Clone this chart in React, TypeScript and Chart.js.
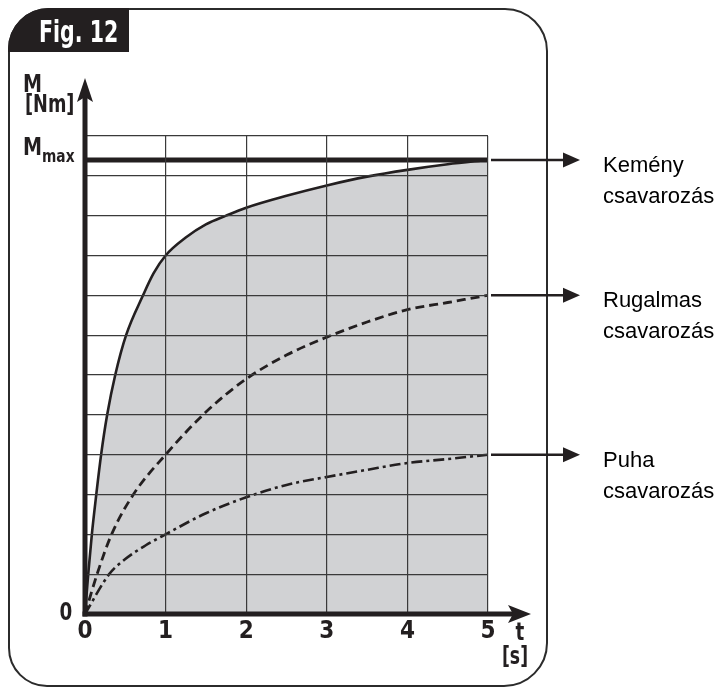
import { useEffect, useRef } from 'react';
import { Chart, registerables } from 'chart.js';

Chart.register(...registerables);

// ---- data (y in grid units, Mmax ≈ 11.4 of 12) ----
const timeTicks = [0, 1, 2, 3, 4, 5];
const yGridMax = 12;
const mMaxValue = 11.4;
const mMaxT = [0, 5];

const hardT = [0, 0.04, 0.085, 0.14, 0.2, 0.275, 0.375, 0.51, 0.72, 0.85, 1, 1.25, 1.5, 1.75, 2, 2.5, 3, 3.5, 4, 4.5, 5];
const hardM = [0, 1, 2, 3, 4, 5, 6, 7, 8, 8.55, 9, 9.45, 9.78, 10.0, 10.2, 10.5, 10.76, 10.98, 11.15, 11.29, 11.4];

const elasticT = [0, 0.15, 0.33, 0.6, 1, 1.5, 2, 2.5, 3, 3.5, 4, 4.5, 5];
const elasticM = [0, 1, 2, 3, 4, 5.07, 5.9, 6.5, 6.95, 7.33, 7.64, 7.82, 8];

const softT = [0, 0.3, 0.5, 0.75, 1, 1.5, 2, 2.5, 3, 3.5, 4, 4.5, 5];
const softM = [0, 1, 1.38, 1.72, 2, 2.53, 2.93, 3.24, 3.44, 3.62, 3.79, 3.89, 4];

const seriesLabels = [
  ['Kemény', 'csavarozás'],
  ['Rugalmas', 'csavarozás'],
  ['Puha', 'csavarozás'],
];
const figTitle = 'Fig. 12';
const yAxisName = ['M', '[Nm]'];
const xAxisName = ['t', '[s]'];
const mMaxLabel = ['M', 'max'];
const originLabel = '0';

const INK = '#231f20';
const GRID = '#3a3a3a';
const FILL = '#d1d2d4';
const COND = '"DejaVu Sans Condensed", "Liberation Sans Narrow", sans-serif';
const SANS = '"Liberation Sans", Arial, sans-serif';

const toPts = (t: number[], m: number[]) => t.map((v, i) => ({ x: v, y: m[i] }));

function condText(
  ctx: CanvasRenderingContext2D,
  text: string,
  x: number,
  y: number,
  sx: number,
  align: CanvasTextAlign,
) {
  ctx.save();
  ctx.translate(x, y);
  ctx.scale(sx, 1);
  ctx.textAlign = align;
  ctx.textBaseline = 'alphabetic';
  ctx.fillText(text, 0, 0);
  ctx.restore();
}

const decorPlugin = {
  id: 'decor',
  beforeDraw(chart: any) {
    const ctx = chart.ctx as CanvasRenderingContext2D;
    ctx.save();
    ctx.fillStyle = '#ffffff';
    ctx.fillRect(0, 0, chart.width, chart.height);

    // rounded frame
    const L = 9, T = 9, R = 547, B = 686;
    const rTL = 40, rTR = 42, rBR = 43, rBL = 38;
    ctx.beginPath();
    ctx.moveTo(L + rTL, T);
    ctx.lineTo(R - rTR, T);
    ctx.arcTo(R, T, R, T + rTR, rTR);
    ctx.lineTo(R, B - rBR);
    ctx.arcTo(R, B, R - rBR, B, rBR);
    ctx.lineTo(L + rBL, B);
    ctx.arcTo(L, B, L, B - rBL, rBL);
    ctx.lineTo(L, T + rTL);
    ctx.arcTo(L, T, L + rTL, T, rTL);
    ctx.closePath();
    ctx.strokeStyle = '#2b2b2b';
    ctx.lineWidth = 2;
    ctx.stroke();

    // black title tab
    ctx.beginPath();
    ctx.moveTo(129, T - 1);
    ctx.lineTo(L + rTL, T - 1);
    ctx.arcTo(L - 1, T - 1, L - 1, T + rTL, rTL + 1);
    ctx.lineTo(L - 1, 52);
    ctx.lineTo(129, 52);
    ctx.closePath();
    ctx.fillStyle = INK;
    ctx.fill();
    ctx.fillStyle = '#ffffff';
    ctx.font = `bold 30px ${COND}`;
    condText(ctx, figTitle, 39, 42, 0.76, 'left');
    ctx.restore();
  },
  afterDraw(chart: any) {
    const ctx = chart.ctx as CanvasRenderingContext2D;
    const xs = chart.scales.x;
    const ys = chart.scales.y;
    const ca = chart.chartArea;
    const x0 = xs.getPixelForValue(0);
    const y0 = ys.getPixelForValue(0);
    ctx.save();
    ctx.strokeStyle = INK;
    ctx.fillStyle = INK;
    ctx.lineWidth = 5;
    ctx.lineCap = 'butt';

    // y axis with arrow
    const yTip = ca.top - 58;
    ctx.beginPath();
    ctx.moveTo(x0, y0 + 2.5);
    ctx.lineTo(x0, yTip + 18);
    ctx.stroke();
    ctx.beginPath();
    ctx.moveTo(x0, yTip);
    ctx.lineTo(x0 + 8, yTip + 24);
    ctx.lineTo(x0, yTip + 19);
    ctx.lineTo(x0 - 8, yTip + 24);
    ctx.closePath();
    ctx.fill();

    // x axis with arrow
    const xTip = ca.right + 43;
    ctx.beginPath();
    ctx.moveTo(x0 - 2.5, y0);
    ctx.lineTo(xTip - 18, y0);
    ctx.stroke();
    ctx.beginPath();
    ctx.moveTo(xTip, y0);
    ctx.lineTo(xTip - 23, y0 - 9);
    ctx.lineTo(xTip - 18, y0);
    ctx.lineTo(xTip - 23, y0 + 9);
    ctx.closePath();
    ctx.fill();

    // axis texts (condensed bold)
    ctx.font = `bold 25px ${COND}`;
    condText(ctx, yAxisName[0], 23, ca.top - 44, 0.85, 'left');
    ctx.font = `bold 24px ${COND}`;
    condText(ctx, yAxisName[1], 25, ca.top - 24, 0.82, 'left');

    const yM = ys.getPixelForValue(mMaxValue);
    ctx.font = `bold 25px ${COND}`;
    condText(ctx, mMaxLabel[0], 23, yM - 5, 0.85, 'left');
    const mW = ctx.measureText(mMaxLabel[0]).width * 0.85;
    ctx.font = `bold 18px ${COND}`;
    condText(ctx, mMaxLabel[1], 23 + mW, yM + 2, 0.85, 'left');

    ctx.font = `bold 24px ${COND}`;
    condText(ctx, originLabel, 66, y0 + 6, 0.85, 'center');
    condText(ctx, xAxisName[0], ca.right + 32, y0 + 26, 0.85, 'center');
    condText(ctx, xAxisName[1], ca.right + 27, y0 + 50, 0.8, 'center');

    // right-side arrows and labels
    const ends = [hardM[hardM.length - 1], elasticM[elasticM.length - 1], softM[softM.length - 1]];
    ctx.lineWidth = 2.5;
    ends.forEach((v, i) => {
      const y = ys.getPixelForValue(v);
      const tip = ca.right + 92;
      ctx.beginPath();
      ctx.moveTo(ca.right + 3, y);
      ctx.lineTo(tip - 14, y);
      ctx.stroke();
      ctx.beginPath();
      ctx.moveTo(tip, y);
      ctx.lineTo(tip - 17, y - 7.5);
      ctx.lineTo(tip - 17, y + 7.5);
      ctx.closePath();
      ctx.fill();
      ctx.font = `22px ${SANS}`;
      ctx.textAlign = 'left';
      ctx.textBaseline = 'alphabetic';
      ctx.fillStyle = '#000';
      ctx.fillText(seriesLabels[i][0], ca.right + 115, y + 12);
      ctx.fillText(seriesLabels[i][1], ca.right + 115, y + 43);
      ctx.fillStyle = INK;
    });
    ctx.restore();
  },
};

export default function App() {
  const ref = useRef<HTMLCanvasElement | null>(null);
  useEffect(() => {
    if (!ref.current) return;
    const chart = new Chart(ref.current, {
      type: 'line',
      data: {
        datasets: [
          {
            label: seriesLabels[0].join(' '),
            data: toPts(hardT, hardM),
            borderColor: INK,
            borderWidth: 2.6,
            backgroundColor: FILL,
            fill: 'origin',
            pointRadius: 0,
            cubicInterpolationMode: 'monotone',
            order: 5,
          },
          {
            label: seriesLabels[1].join(' '),
            data: toPts(elasticT, elasticM),
            borderColor: INK,
            borderWidth: 2.8,
            borderDash: [9, 5],
            fill: false,
            pointRadius: 0,
            cubicInterpolationMode: 'monotone',
            order: 1,
          },
          {
            label: seriesLabels[2].join(' '),
            data: toPts(softT, softM),
            borderColor: INK,
            borderWidth: 2.6,
            borderDash: [11, 4, 3, 4],
            fill: false,
            pointRadius: 0,
            cubicInterpolationMode: 'monotone',
            order: 1,
          },
          {
            label: 'Mmax',
            data: mMaxT.map((t) => ({ x: t, y: mMaxValue })),
            borderColor: INK,
            borderWidth: 5,
            fill: false,
            pointRadius: 0,
            order: 0,
          },
        ],
      },
      options: {
        animation: false,
        responsive: false,
        events: [],
        layout: { padding: { left: 0, top: 136, right: 240, bottom: 0 } },
        plugins: {
          legend: { display: false },
          tooltip: { enabled: false },
          title: { display: false },
        },
        scales: {
          x: {
            type: 'linear',
            min: timeTicks[0],
            max: timeTicks[timeTicks.length - 1],
            afterBuildTicks: (scale: any) => {
              scale.ticks = timeTicks.map((v) => ({ value: v }));
            },
            afterFit: (scale: any) => {
              scale.height = 74;
            },
            ticks: {
              font: { family: COND, size: 24, weight: 'bold' },
              color: INK,
              padding: 3,
              maxRotation: 0,
            },
            grid: { color: GRID, lineWidth: 1.2, drawTicks: false, z: 1 },
            border: { display: false },
          },
          y: {
            type: 'linear',
            min: 0,
            max: yGridMax,
            ticks: { stepSize: 1, display: false },
            afterFit: (scale: any) => {
              scale.width = 85;
            },
            grid: { color: GRID, lineWidth: 1.2, drawTicks: false, z: 1 },
            border: { display: false },
          },
        },
      },
      plugins: [decorPlugin],
    } as any);
    return () => chart.destroy();
  }, []);
  return (
    <div style={{ position: 'absolute', left: 0, top: 0, width: 728, height: 688 }}>
      <canvas ref={ref} width={728} height={688} />
    </div>
  );
}
